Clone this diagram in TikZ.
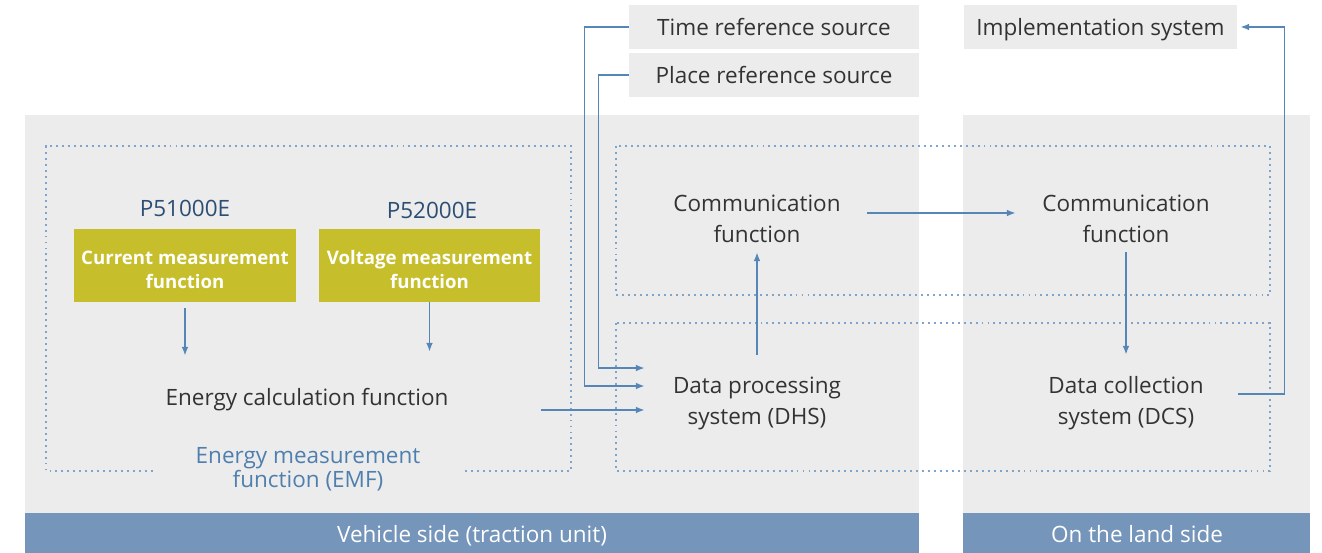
\documentclass[tikz,border=0pt]{standalone}
\usepackage{fontspec}
\setmainfont{Open Sans}
\usetikzlibrary{arrows.meta}

\definecolor{panelgray}{HTML}{ECECEC}
\definecolor{barblue}{HTML}{7596BA}
\definecolor{lineblue}{HTML}{5486B7}
\definecolor{dotblue}{HTML}{7FA5CC}
\definecolor{olive}{HTML}{C6BE2A}
\definecolor{textdark}{HTML}{333333}
\definecolor{codeblue}{HTML}{2D4E74}
\definecolor{labelblue}{HTML}{4F7FAE}

\tikzset{
  txt/.style={font=\fontsize{12.8}{17.6}\selectfont, text=textdark, align=center, inner sep=0pt},
  oneline/.style={txt, text depth=0pt},
  refbox/.style={oneline, fill=panelgray, minimum height=0.88cm},
  functext/.style={text=white, font=\fontsize{10.6}{13.6}\selectfont\bfseries, align=center, inner sep=0pt},
  funcbox/.style={fill=olive, minimum width=4.44cm, minimum height=1.46cm, inner sep=0pt},
  sysnode/.style={txt, minimum width=4.48cm, minimum height=1.84cm},
  commnode/.style={txt, minimum width=4.4cm, minimum height=1.36cm},
  dotbox/.style={draw=dotblue, line width=1.1pt, dash pattern=on 1.1pt off 2.3pt},
  conn/.style={draw=lineblue, line width=0.85pt},
  arr/.style={conn, -{Latex[length=5pt,width=3.8pt]}},
  barlabel/.style={font=\fontsize{12.8}{15}\selectfont, text=white, text depth=0pt},
}

\begin{document}
\begin{tikzpicture}[x=0.02cm,y=-0.02cm]
\useasboundingbox (0,0) rectangle (1322,553);

% panels
\fill[panelgray] (25,115) rectangle (919,513);
\fill[panelgray] (963,115) rectangle (1310,513);
\fill[barblue] (25,513) rectangle (919,553);
\fill[barblue] (963,513) rectangle (1310,553);
\node[barlabel] (vehicle) at (472,534) {Vehicle side (traction unit)};
\node[barlabel] (land) at (1137,534) {On the land side};

% dotted groups
\draw[dotbox] (153,471) -- (46,471) -- (46,146) -- (571,146) -- (571,471) -- (465,471);
\node[txt, text=labelblue, font=\fontsize{12.8}{13.6}\selectfont] (emf) at (308,469) {Energy measurement\\function (EMF)};
\draw[dotbox] (616,146) rectangle (1270,295);
\draw[dotbox] (616,323) rectangle (1270,471);

% reference sources
\node[refbox, minimum width=5.8cm] (time) at (774,27) {Time reference source};
\node[refbox, minimum width=5.8cm] (place) at (774,75) {Place reference source};
\node[refbox, minimum width=5.46cm] (impl) at (1100.5,27) {Implementation system};

% measurement functions
\node[oneline, text=codeblue] (p51) at (185,208) {P51000E};
\node[oneline, text=codeblue] (p52) at (432,210) {P52000E};
\node[funcbox, label={[functext, yshift=-0.08cm]center:Current measurement\\function}] (cur) at (185,265.5) {};
\node[funcbox, label={[functext, yshift=-0.08cm]center:Voltage measurement\\function}] (volt) at (429.5,265.5) {};
\node[oneline, minimum height=1.64cm] (ecalc) at (307,397) {Energy calculation function};

% systems
\node[commnode] (commL) at (757,219) {Communication\\function};
\node[commnode] (commR) at (1126,219) {Communication\\function};
\node[sysnode] (dhs) at (757,403) {Data processing\\system (DHS)};
\node[sysnode] (dcs) at (1126,403) {Data collection\\system (DCS)};

% connectors
\draw[arr] ([yshift=-0.12cm]cur.south) -- (cur.south |- ecalc.north);
\draw[arr] (volt.south) -- ([yshift=0.08cm]volt.south |- ecalc.north);
\draw[arr] ([yshift=-0.14cm]dhs.west -| volt.east) -- ([yshift=-0.14cm]dhs.west);
\draw[arr] (time.west) -- ++(-44,0) |- ([yshift=0.34cm]dhs.west);
\draw[arr] (place.west) -- ++(-30,0) |- ([yshift=0.7cm]dhs.west);
\draw[arr] ([yshift=0.04cm]dhs.north) -- ([yshift=0.02cm]commL.south);
\draw[arr] ([yshift=0.12cm]commL.east) -- ([yshift=0.12cm]commR.west);
\draw[arr] ([yshift=0.02cm]commR.south) -- ([yshift=0.04cm]dcs.north);
\draw[arr] ([yshift=0.18cm]dcs.east) -- ++(46,0) |- ([xshift=0.06cm]impl.east);
\end{tikzpicture}
\end{document}
